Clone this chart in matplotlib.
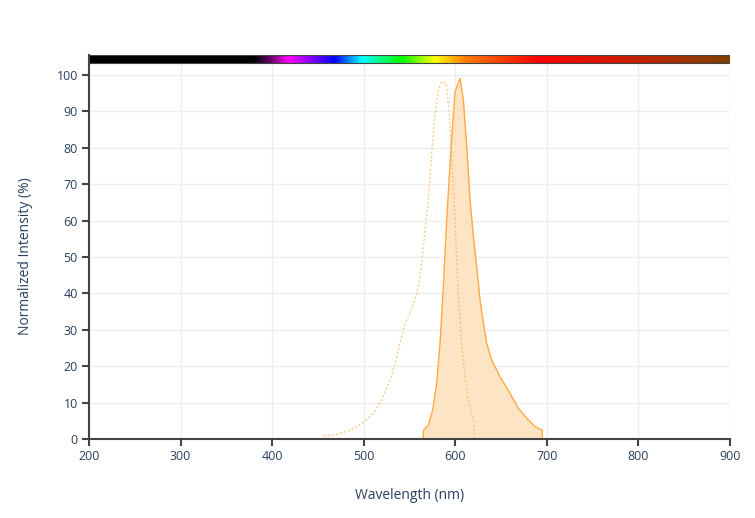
import numpy as np
import matplotlib
matplotlib.use('Agg')
import matplotlib.pyplot as plt
from matplotlib.colors import LinearSegmentedColormap

plt.rcParams['font.family'] = ['Open Sans', 'DejaVu Sans']

# emission spectrum (filled)
em_wl = [565, 565.1, 570.6, 575.3, 579.7, 583.3, 587, 590.6, 595, 599.7, 605.2, 608.8,
         612.5, 616.1, 619.8, 623.4, 627, 630.7, 634.3, 639.8, 648.8, 659.8, 668.8,
         678, 687, 695, 695.1]
em_val = [0, 2.4, 3.9, 8.0, 15.4, 26.3, 41.9, 60.1, 78.4, 95.3, 99.0, 93.1,
          80.3, 65.6, 55.6, 47.3, 38.2, 31.8, 26.3, 21.7, 17.2, 12.6, 8.5,
          5.8, 3.5, 2.5, 0]

# excitation spectrum (dotted)
ex_wl = [455.9, 470.5, 485, 499.6, 510.5, 519.6, 528.7, 535.3, 540.4, 545.1, 550.5,
         557.8, 561.5, 565.1, 570.6, 574.2, 577.9, 581.5, 585.2, 589.9, 592.4, 595,
         597.9, 600.8, 603.3, 607, 610.6, 614.2, 617.9, 620.4, 620.5]
ex_val = [0.9, 1.4, 2.4, 4.6, 7.1, 10.8, 16.3, 21.7, 27.2, 31.8, 34.6,
          40.0, 44.5, 52.8, 65.6, 78.4, 89.4, 95.8, 98.1, 97.6, 92.2, 83.0,
          69.3, 53.8, 40.0, 26.3, 17.2, 10.8, 7.1, 5.3, 0]

# spectrum colour bar stops (wavelength, colour)
bar_wl = [200, 380, 400, 418, 468, 498, 541, 578, 610, 691, 800, 900]
bar_col = ['#000000', '#000000', '#7a007a', '#ff00ff', '#0000ff', '#00ffff', '#00ff00',
           '#ffff00', '#ff8000', '#ff0000', '#c42000', '#7f4000']

line_col = '#ffa940'
fill_col = '#fde1bf'
text_col = '#2a3f5f'

fig = plt.figure(figsize=(7.55, 5.18), dpi=100)
ax = fig.add_axes([89 / 755, 1 - 439.3 / 518, 641 / 755, (439.3 - 55) / 518])

ax.fill_between(em_wl, em_val, color=fill_col, alpha=0.9, linewidth=0)
ax.plot(em_wl, em_val, color=line_col, linewidth=1)
ax.plot(ex_wl, ex_val, color=line_col, linewidth=1, linestyle=(0, (1.5, 1.5)), alpha=0.6)

# colour bar along the top
pos = [(w - 200) / 700 for w in bar_wl]
cmap = LinearSegmentedColormap.from_list('spec', list(zip(pos, bar_col)))
ax.imshow(np.linspace(0, 1, 700).reshape(1, -1), cmap=cmap, aspect='auto',
          extent=[200, 900, 103.2, 105.4], zorder=3)
ax.plot([200, 900, 900, 200, 200], [103.2, 103.2, 105.4, 105.4, 103.2],
        color='#444444', linewidth=0.8, zorder=4)

ax.set_xlim(200, 900)
ax.set_ylim(0, 105.4)
ax.set_xticks(range(200, 901, 100))
ax.set_yticks(range(0, 101, 10))
ax.grid(True, color='#eeeeee', linewidth=1)
ax.set_axisbelow(True)
for s in ['top', 'right']:
    ax.spines[s].set_visible(False)
for s in ['bottom', 'left']:
    ax.spines[s].set_color('#444444')
    ax.spines[s].set_linewidth(1.5)
ax.tick_params(direction='out', length=5, width=1.5, color='#444444',
               labelsize=9, labelcolor=text_col, pad=3)

ax.set_xlabel('Wavelength (nm)', fontsize=10, color=text_col, labelpad=18)
ax.set_ylabel('Normalized Intensity (%)', fontsize=10, color=text_col)
ax.yaxis.set_label_coords(-0.088, 0.476)

fig.savefig('out.png', dpi=100)
